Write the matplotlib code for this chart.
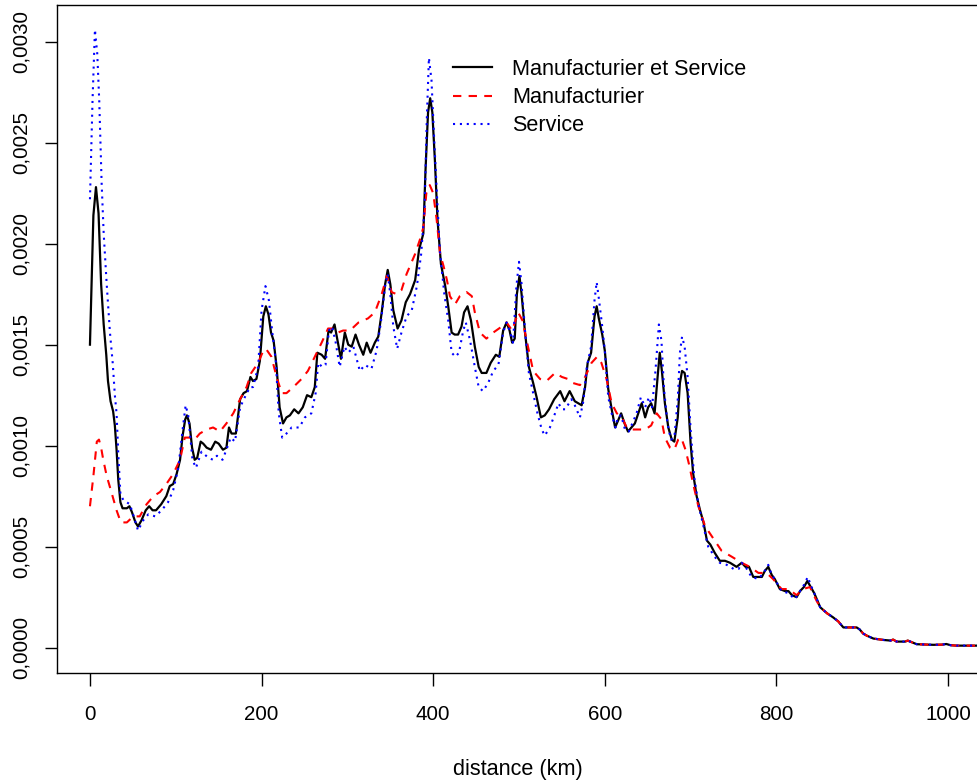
import matplotlib
matplotlib.use("Agg")
import matplotlib.pyplot as plt
import numpy as np

plt.rcParams["font.family"] = ["Liberation Sans", "DejaVu Sans"]

# density curves (distance in km, density)
ms_km = [0, 2, 4, 7, 10, 13, 16, 19, 21, 24, 27, 29, 31, 33, 35.5, 38, 43, 46, 49, 53, 56,
         60, 65, 69, 73, 77, 83, 89, 93, 97, 101, 105, 108, 111, 113, 116, 119, 122, 125,
         129, 132, 136, 141, 146, 150, 155, 159, 162, 165, 170, 175, 179, 183, 187, 190,
         194, 198, 202, 205, 208, 211, 214, 217.5, 221, 225, 229, 233, 238, 243, 248, 253,
         258, 262, 265, 270, 274, 278, 281, 285, 289, 292.5, 297, 301, 305, 309.5, 313.5,
         318.5, 322.5, 327, 332, 336, 340, 344, 347, 350, 353.5, 358.5, 363, 368, 373, 379,
         383.5, 388.5, 391, 394, 396.5, 399, 402, 405, 409, 414, 417.5, 421.5, 425, 429,
         433, 436, 440, 444, 448.5, 453, 456.5, 462, 467, 473, 477, 481.5, 485.5, 489, 492,
         495, 497.5, 500.5, 503, 507, 511.5, 516.5, 520.5, 525.5, 530, 535, 541, 548, 553,
         559, 565, 573, 577, 580, 584, 588, 590.5, 593, 597, 600, 604, 608, 612, 615, 619,
         623, 627, 631, 635, 639, 643, 647, 650.5, 654, 658, 661.5, 664, 666.5, 670, 674,
         678, 681, 685, 687.5, 690, 693, 696.5, 700, 703, 707, 711, 715, 719, 723, 728, 734,
         740, 746, 753.5, 759.5, 764, 768, 773, 778, 783, 786.5, 790.5, 794.5, 798, 804,
         810, 814, 818, 823.5, 827.5, 832, 836, 840, 844, 847]
ms_dens = [0.00150, 0.00183, 0.00214, 0.00228, 0.00215, 0.00180, 0.00160, 0.00145, 0.00132,
           0.00122, 0.00117, 0.00110, 0.00098, 0.00083, 0.00072, 0.00069, 0.00069, 0.00070,
           0.00067, 0.00062, 0.00060, 0.00063, 0.00068, 0.00070, 0.00068, 0.00068, 0.00071,
           0.00075, 0.00080, 0.00081, 0.00086, 0.00093, 0.00105, 0.00113, 0.00115, 0.00111,
           0.00099, 0.00093, 0.00094, 0.00102, 0.00101, 0.00099, 0.00098, 0.00102, 0.00101,
           0.00098, 0.00099, 0.00109, 0.00106, 0.00106, 0.00123, 0.00126, 0.00127, 0.00134,
           0.00132, 0.00133, 0.00142, 0.00164, 0.00169, 0.00165, 0.00156, 0.00152, 0.00139,
           0.00119, 0.00111, 0.00114, 0.00115, 0.00118, 0.00116, 0.00119, 0.00125, 0.00124,
           0.00129, 0.00146, 0.00145, 0.00143, 0.00157, 0.00156, 0.00160, 0.00151, 0.00143,
           0.00156, 0.00150, 0.00149, 0.00155, 0.00150, 0.00145, 0.00151, 0.00146, 0.00151,
           0.00154, 0.00166, 0.00180, 0.00187, 0.00180, 0.00167, 0.00158, 0.00162, 0.00171,
           0.00175, 0.00182, 0.00197, 0.00205, 0.00236, 0.00265, 0.00272, 0.00265, 0.00241,
           0.00212, 0.00190, 0.00179, 0.00169, 0.00156, 0.00155, 0.00155, 0.00159, 0.00166,
           0.00169, 0.00162, 0.00149, 0.00139, 0.00136, 0.00136, 0.00141, 0.00145, 0.00144,
           0.00157, 0.00161, 0.00157, 0.00151, 0.00153, 0.00175, 0.00184, 0.00175, 0.00156,
           0.00139, 0.00131, 0.00124, 0.00114, 0.00115, 0.00118, 0.00123, 0.00127, 0.00122,
           0.00127, 0.00122, 0.00120, 0.00129, 0.00141, 0.00146, 0.00164, 0.00169, 0.00163,
           0.00155, 0.00147, 0.00128, 0.00118, 0.00109, 0.00112, 0.00116, 0.00111, 0.00107,
           0.00109, 0.00111, 0.00116, 0.00121, 0.00114, 0.00119, 0.00121, 0.00116, 0.00134,
           0.00146, 0.00137, 0.00121, 0.00109, 0.00103, 0.00102, 0.00114, 0.00131, 0.00137,
           0.00136, 0.00126, 0.00101, 0.00086, 0.00075, 0.00068, 0.00062, 0.00053, 0.00051,
           0.00047, 0.00043, 0.00043, 0.00042, 0.00040, 0.00042, 0.00040, 0.00040, 0.00035,
           0.00035, 0.00035, 0.00038, 0.00040, 0.00036, 0.00034, 0.00029, 0.00028, 0.00028,
           0.00026, 0.00025, 0.00028, 0.00030, 0.00033, 0.00030, 0.00027, 0.00024]

m_km = [0, 4, 8, 10.5, 13, 15.5, 19.5, 25, 31, 36, 43, 50.5, 58, 66, 74, 81.5, 89, 97, 105,
        110.5, 116, 122, 128, 136, 143.5, 151.5, 159, 167, 175, 182.5, 188, 196, 202, 205,
        211.5, 217.5, 223.5, 229, 237, 246.5, 254, 262, 270, 277.5, 283.5, 289, 295, 303,
        313, 324, 332, 340, 346, 351.5, 357.5, 363, 369, 373, 379, 384.5, 388.5, 392, 396,
        400, 404, 408, 412, 416, 419.5, 425.5, 431, 439, 445, 448.5, 454.5, 462, 470, 480,
        485.5, 492, 499, 504, 509, 516.5, 524.5, 532, 542, 550, 557, 563, 571, 577, 584.5,
        591, 596, 602, 608, 614, 620, 625.5, 631, 639, 647, 654, 660.5, 666, 670, 676, 681,
        685.5, 689, 694, 698, 703, 709, 717, 726.5, 736, 748, 759.5, 769, 779, 788.5, 796,
        806, 814, 823.5, 831, 839, 847]
m_dens = [0.00070, 0.00085, 0.00102, 0.00103, 0.00099, 0.00093, 0.00085, 0.00077, 0.00068,
          0.00062, 0.00062, 0.00065, 0.00065, 0.00071, 0.00075, 0.00077, 0.00081, 0.00086,
          0.00093, 0.00104, 0.00104, 0.00103, 0.00106, 0.00108, 0.00109, 0.00107, 0.00111,
          0.00116, 0.00123, 0.00129, 0.00136, 0.00141, 0.00147, 0.00148, 0.00144, 0.00134,
          0.00126, 0.00126, 0.00129, 0.00133, 0.00137, 0.00144, 0.00151, 0.00158, 0.00158,
          0.00156, 0.00157, 0.00157, 0.00161, 0.00163, 0.00166, 0.00175, 0.00184, 0.00176,
          0.00175, 0.00177, 0.00185, 0.00189, 0.00195, 0.00202, 0.00208, 0.00225, 0.00229,
          0.00225, 0.00212, 0.00195, 0.00189, 0.00182, 0.00174, 0.00170, 0.00174, 0.00176,
          0.00174, 0.00166, 0.00156, 0.00153, 0.00156, 0.00159, 0.00161, 0.00157, 0.00166,
          0.00162, 0.00152, 0.00137, 0.00133, 0.00132, 0.00136, 0.00134, 0.00133, 0.00131,
          0.00130, 0.00134, 0.00141, 0.00144, 0.00141, 0.00133, 0.00121, 0.00116, 0.00114,
          0.00109, 0.00108, 0.00108, 0.00108, 0.00110, 0.00116, 0.00113, 0.00104, 0.00099,
          0.00098, 0.00103, 0.00104, 0.00098, 0.00091, 0.00081, 0.00070, 0.00060, 0.00054,
          0.00048, 0.00045, 0.00042, 0.00040, 0.00037, 0.00037, 0.00034, 0.00029, 0.00029,
          0.00026, 0.00029, 0.00030, 0.00023]

s_km = [0, 3, 5.8, 8.5, 10.8, 13.6, 16, 19.5, 23.3, 26.5, 29, 31, 33, 35.5, 39, 46.5, 52.5,
        56, 62, 68, 76, 83.5, 91, 97, 103, 108, 111.5, 114.5, 119.5, 123.5, 130, 138, 143.5,
        148, 154.5, 159, 164, 169, 175, 180.5, 186.5, 190, 196, 200, 204.5, 208.5, 212.5,
        216.5, 220, 224, 229, 235, 244, 250.5, 258, 263, 266, 270.5, 274.5, 278.5, 282, 286,
        291, 296.5, 301, 307, 314.5, 320.5, 328, 334, 339, 344, 347, 350, 353.5, 358, 363,
        369, 375, 381, 386, 390, 392.5, 395, 398, 401, 404.5, 408, 413, 417.5, 421.5, 426,
        430, 435, 438, 443, 448.5, 453, 458, 464, 470, 476, 481.5, 485.5, 489, 493, 497, 500,
        503, 507, 511.5, 516.5, 521.5, 526.5, 530, 536, 542, 546, 550, 554, 561, 565, 571,
        575, 579, 584, 588, 590.5, 593, 597, 600, 604, 609, 612.5, 615, 619, 623.5, 628, 633,
        637, 642, 647, 651.5, 655, 659, 663, 666, 669, 673, 677, 681, 685, 687.5, 690, 693,
        696.5, 700, 704, 709, 715, 720.5, 728, 734, 742, 750, 756, 759.5, 764, 771, 779, 785,
        790.5, 794.5, 798, 806, 814, 821.5, 827.5, 832, 836.5, 840, 844, 847]
s_dens = [0.00222, 0.00271, 0.00306, 0.00294, 0.00271, 0.00230, 0.00205, 0.00180, 0.00156,
          0.00141, 0.00125, 0.00116, 0.00096, 0.00076, 0.00073, 0.00071, 0.00063, 0.00058,
          0.00063, 0.00066, 0.00065, 0.00068, 0.00072, 0.00078, 0.00089, 0.00108, 0.00120,
          0.00115, 0.00093, 0.00089, 0.00097, 0.00094, 0.00093, 0.00095, 0.00093, 0.00098,
          0.00104, 0.00102, 0.00119, 0.00124, 0.00129, 0.00129, 0.00139, 0.00167, 0.00179,
          0.00172, 0.00156, 0.00142, 0.00116, 0.00104, 0.00106, 0.00109, 0.00109, 0.00114,
          0.00116, 0.00126, 0.00141, 0.00139, 0.00140, 0.00157, 0.00159, 0.00152, 0.00139,
          0.00149, 0.00146, 0.00149, 0.00137, 0.00140, 0.00138, 0.00147, 0.00161, 0.00179,
          0.00185, 0.00175, 0.00159, 0.00148, 0.00156, 0.00164, 0.00167, 0.00179, 0.00195,
          0.00218, 0.00261, 0.00292, 0.00281, 0.00253, 0.00223, 0.00195, 0.00175, 0.00162,
          0.00146, 0.00144, 0.00146, 0.00157, 0.00161, 0.00152, 0.00139, 0.00129, 0.00127,
          0.00131, 0.00137, 0.00140, 0.00156, 0.00161, 0.00157, 0.00151, 0.00179, 0.00191,
          0.00180, 0.00157, 0.00136, 0.00126, 0.00116, 0.00108, 0.00105, 0.00109, 0.00116,
          0.00121, 0.00118, 0.00118, 0.00123, 0.00120, 0.00114, 0.00122, 0.00139, 0.00149,
          0.00172, 0.00181, 0.00173, 0.00159, 0.00147, 0.00124, 0.00114, 0.00109, 0.00114,
          0.00115, 0.00108, 0.00107, 0.00112, 0.00116, 0.00124, 0.00119, 0.00124, 0.00119,
          0.00137, 0.00160, 0.00152, 0.00128, 0.00111, 0.00103, 0.00104, 0.00123, 0.00146,
          0.00154, 0.00149, 0.00134, 0.00108, 0.00085, 0.00071, 0.00060, 0.00050, 0.00045,
          0.00042, 0.00041, 0.00039, 0.00039, 0.00042, 0.00040, 0.00035, 0.00034, 0.00037,
          0.00041, 0.00036, 0.00034, 0.00028, 0.00027, 0.00024, 0.00028, 0.00031, 0.00035,
          0.00031, 0.00027, 0.00024]

# the three curves run together past ~850 km
tail_km = [851, 859, 866, 872, 878, 886, 893.5, 897, 901, 905, 913, 925, 933, 936, 940, 950,
           953, 957, 963.5, 983, 993, 998, 1003, 1010, 1036]
tail_dens = [0.00020, 0.00017, 0.00015, 0.00013, 0.00010, 0.00010, 0.00010, 0.00009, 0.00007,
             0.00006, 0.000045, 0.000038, 0.000035, 0.000040, 0.000030, 0.000030, 0.000035,
             0.000028, 0.000017, 0.000014, 0.000015, 0.000018, 0.000012, 0.000010, 0.000010]

labels = ["Manufacturier et Service", "Manufacturier", "Service"]
x_ticks = [0, 200, 400, 600, 800, 1000]
y_ticks = [0.0000, 0.0005, 0.0010, 0.0015, 0.0020, 0.0025, 0.0030]
y_labels = ["0,0000", "0,0005", "0,0010", "0,0015", "0,0020", "0,0025", "0,0030"]

fig = plt.figure(figsize=(9.77, 7.83), dpi=100)
ax = fig.add_axes([0.058, 0.1401, 0.944, 0.8531])

ax.plot(ms_km + tail_km, ms_dens + tail_dens, color="black", lw=1.6, ls="-", label=labels[0])
ax.plot(m_km + tail_km, m_dens + tail_dens, color="red", lw=1.5, dashes=(4, 3.5), label=labels[1])
ax.plot(s_km + tail_km, s_dens + tail_dens, color="blue", lw=1.5, dashes=(1, 2.3), label=labels[2])

ax.set_xlim(-38.8, 1036)
ax.set_ylim(-0.000127, 0.00318)

ax.set_xticks(x_ticks)
ax.set_xticklabels([str(t) for t in x_ticks])
ax.set_yticks(y_ticks)
ax.set_yticklabels(y_labels, rotation=90, va="center")
ax.tick_params(axis="both", direction="out", length=9, width=1, labelsize=14.8, colors="black")
ax.tick_params(axis="x", pad=14)
ax.tick_params(axis="y", pad=10)

for s in ax.spines.values():
    s.set_linewidth(1)
    s.set_color("black")

ax.set_xlabel("distance (km)", fontsize=15.6, labelpad=25)

ax.legend(loc="upper left", bbox_to_anchor=(453 / 977, 1 - 59 / 783), bbox_transform=fig.transFigure,
          frameon=False, fontsize=15.6, handlelength=1.8, handletextpad=0.92, labelspacing=0.33,
          borderaxespad=0, borderpad=0)

fig.savefig("out.png", dpi=100)
